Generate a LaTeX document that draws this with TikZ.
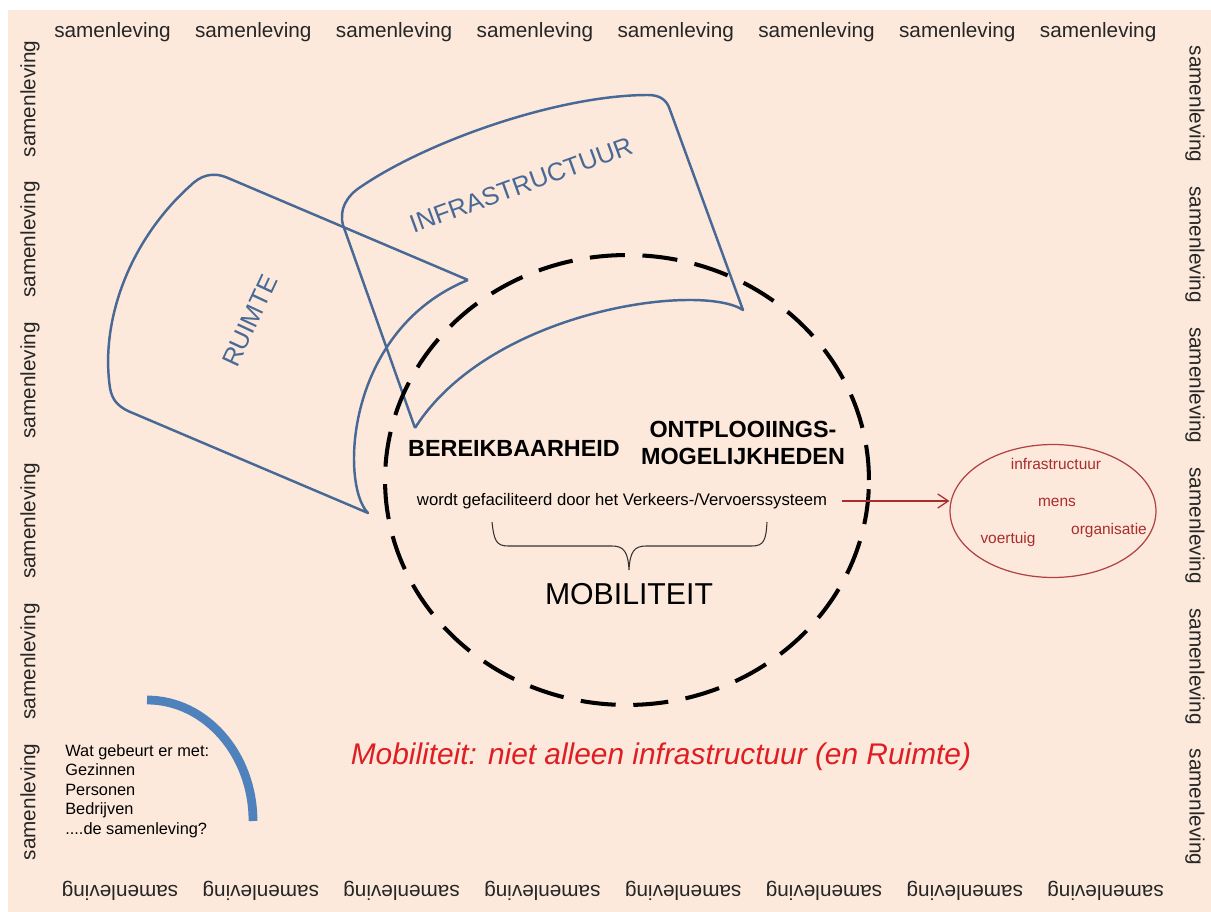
\documentclass[tikz,border=0pt]{standalone}
\usepackage{fontspec}
\setmainfont{Liberation Sans}
\usepackage{tikz}
\usetikzlibrary{arrows.meta}
\usetikzlibrary{shapes.geometric}
\usetikzlibrary{positioning}

\definecolor{peach}{RGB}{252,233,219}
\definecolor{sheetblue}{RGB}{72,104,150}
\definecolor{arcblue}{RGB}{79,129,189}
\definecolor{darkred}{RGB}{170,45,45}
\definecolor{titlered}{RGB}{222,30,35}

\begin{document}
\begin{tikzpicture}[x=0.02cm, y=-0.02cm,
    society/.style={font=\fontsize{11.8}{14}\selectfont, text=black!85, inner sep=0pt},
    sheet/.style={draw=sheetblue, line width=1.4pt, line join=round},
    sheetlabel/.style={text=sheetblue, font=\fontsize{14.5}{17}\selectfont},
    keyword/.style={font=\bfseries\fontsize{13.3}{15.7}\selectfont, align=center, inner sep=0pt},
    mobcircle/.style={ellipse, draw=black, line width=2.3pt, dash pattern=on 20pt off 10pt,
        minimum width=9.68cm, minimum height=9cm, inner sep=0pt},
    syscircle/.style={ellipse, draw=darkred!90, line width=0.7pt,
        minimum width=4.12cm, minimum height=2.66cm, inner sep=0pt},
    element/.style={text=darkred, font=\fontsize{8.8}{10}\selectfont, inner sep=0pt},
    question/.style={font=\fontsize{9.3}{11.1}\selectfont, align=left, inner sep=0pt},
  ]

    \useasboundingbox (0,0) rectangle (1211,912);
    \fill[peach] (8,10) rectangle (1211,912);

    % Border text

    \foreach \i in {0,...,7} {
        \node[society] (top\i) at (112.5+140.8*\i, 32) {samenleving};
        \node[society, rotate=180] (bot\i) at (120+140.8*\i, 891) {samenleving};
    }
    \foreach \i in {0,...,5} {
        \node[society, rotate=90] (left\i) at (30, 99+140.6*\i) {samenleving};
        \node[society, rotate=-90] (right\i) at (1195, 104+140.6*\i) {samenleving};
    }

    % Sheets

    \draw[sheet] (468,280) -- (228,178)
        .. controls (212,171) and (200,176) .. (190,186)
        .. controls (130,240) and (100,320) .. (110,388)
        .. controls (112,400) and (118,406) .. (128,411)
        -- (368,513)
        .. controls (340,485) and (345,330) .. (468,280);
    \draw[sheet] (415,428) -- (343,225)
        .. controls (339,210) and (346,196) .. (362,186)
        .. controls (430,140) and (560,95) .. (648,95)
        .. controls (660,95) and (667,100) .. (670,110)
        -- (743,310)
        .. controls (700,282) and (490,310) .. (415,428);

    \node[sheetlabel, rotate=65] (ruimte) at (250,321) {RUIMTE};
    \node[sheetlabel, rotate=20] (infra) at (521,185) {INFRASTRUCTUUR};

    % Mobility

    \node[mobcircle] (mob) at (627,480) {};
    \node[keyword] (bereik) at (514,448) {BEREIKBAARHEID};
    \node[keyword] (ontpl) at (743,443) {ONTPLOOIINGS-\\MOGELIJKHEDEN};
    \node[font=\fontsize{9.5}{11}\selectfont] (wordt) at (622,501)
        {wordt gefaciliteerd door het Verkeers-/Vervoerssysteem};
    \draw[black!80, line width=0.6pt] (492,522)
        .. controls (494,540) and (496,546) .. (508,546) -- (612,546)
        .. controls (624,546) and (628,552) .. (629,570)
        .. controls (630,552) and (634,546) .. (646,546) -- (752,546)
        .. controls (764,546) and (766,540) .. (767,522);
    \node[font=\fontsize{17.2}{20}\selectfont] (mobi) at (629,594) {MOBILITEIT};

    % System

    \node[syscircle] (sys) at (1053,511) {};
    \node[element] (einfra) at (1056,464) {infrastructuur};
    \node[element] (mens) at (1057,502) {mens};
    \node[element] (org) at (1109,531) {organisatie};
    \node[element] (voer) at (1008,540) {voertuig};

    \draw[-{Straight Barb[length=6pt, width=8pt]}, darkred, line width=0.7pt]
        ([xshift=0.18cm]wordt.east) -- (wordt.east -| sys.west);

    % Question

    \draw[arcblue, line width=5pt] (147,700) .. controls (205.5,700) and (253,754.2) .. (253,821);
    \node[question, anchor=north west] (quest) at (65,744)
        {Wat gebeurt er met:\\Gezinnen\\Personen\\Bedrijven\\....de samenleving?};

    \node[font=\itshape\fontsize{17}{20}\selectfont, text=titlered] (title) at (661,757)
        {Mobiliteit: niet alleen infrastructuur (en Ruimte)};

\end{tikzpicture}
\end{document}
